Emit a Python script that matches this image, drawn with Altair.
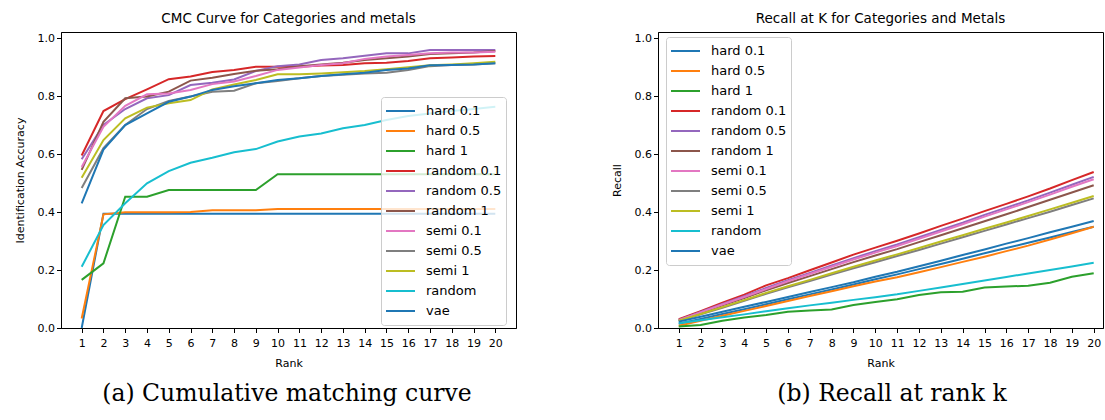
import altair as alt
import pandas as pd

ranks = list(range(1, 21))
series_names = ["hard 0.1", "hard 0.5", "hard 1", "random 0.1", "random 0.5",
                "random 1", "semi 0.1", "semi 0.5", "semi 1", "random", "vae"]
colors = ["#1f77b4", "#ff7f0e", "#2ca02c", "#d62728", "#9467bd", "#8c564b",
          "#e377c2", "#7f7f7f", "#bcbd22", "#17becf", "#1f77b4"]

# ---- CMC curve (left) ----
cmc_hard_01 = [0.0] + [0.394] * 19
cmc_hard_05 = [0.033, 0.392, 0.399, 0.399, 0.399, 0.400, 0.406, 0.406, 0.406, 0.410,
               0.410, 0.410, 0.410, 0.410, 0.410, 0.410, 0.410, 0.410, 0.410, 0.410]
cmc_hard_1 = [0.166, 0.223, 0.453, 0.453, 0.476, 0.476, 0.476, 0.476, 0.476, 0.530,
              0.530, 0.530, 0.530, 0.530, 0.530, 0.530, 0.530, 0.530, 0.530, 0.530]
cmc_random_01 = [0.595, 0.748, 0.789, 0.823, 0.858, 0.867, 0.883, 0.890, 0.901, 0.901,
                 0.901, 0.905, 0.907, 0.913, 0.915, 0.921, 0.930, 0.933, 0.936, 0.938]
cmc_random_05 = [0.582, 0.700, 0.755, 0.792, 0.803, 0.838, 0.846, 0.857, 0.886, 0.903,
                 0.909, 0.924, 0.930, 0.939, 0.947, 0.947, 0.959, 0.959, 0.959, 0.959]
cmc_random_1 = [0.545, 0.711, 0.792, 0.798, 0.815, 0.853, 0.863, 0.876, 0.887, 0.892,
                0.903, 0.909, 0.915, 0.924, 0.930, 0.936, 0.945, 0.947, 0.950, 0.955]
cmc_semi_01 = [0.555, 0.694, 0.766, 0.806, 0.809, 0.821, 0.841, 0.850, 0.869, 0.890,
               0.898, 0.907, 0.913, 0.928, 0.936, 0.941, 0.947, 0.950, 0.950, 0.953]
cmc_semi_05 = [0.483, 0.620, 0.700, 0.755, 0.783, 0.798, 0.815, 0.818, 0.844, 0.852,
               0.861, 0.869, 0.873, 0.878, 0.880, 0.890, 0.903, 0.907, 0.909, 0.913]
cmc_semi_1 = [0.518, 0.648, 0.723, 0.760, 0.775, 0.786, 0.823, 0.840, 0.855, 0.875,
              0.875, 0.878, 0.882, 0.886, 0.892, 0.899, 0.906, 0.909, 0.913, 0.918]
cmc_random = [0.211, 0.355, 0.430, 0.499, 0.541, 0.570, 0.587, 0.606, 0.617, 0.643,
              0.660, 0.671, 0.689, 0.700, 0.717, 0.731, 0.740, 0.748, 0.755, 0.763]
cmc_vae = [0.430, 0.615, 0.700, 0.740, 0.780, 0.798, 0.821, 0.834, 0.844, 0.855,
           0.861, 0.869, 0.875, 0.880, 0.890, 0.895, 0.906, 0.907, 0.909, 0.913]

# ---- Recall at K (right) ----
rec_hard_01 = [0.015, 0.031, 0.048, 0.065, 0.082, 0.099, 0.116, 0.133, 0.150, 0.168,
               0.185, 0.203, 0.221, 0.239, 0.258, 0.276, 0.294, 0.312, 0.331, 0.349]
rec_hard_05 = [0.008, 0.025, 0.042, 0.059, 0.076, 0.093, 0.110, 0.127, 0.144, 0.160,
               0.175, 0.192, 0.210, 0.228, 0.246, 0.265, 0.284, 0.305, 0.327, 0.349]
rec_hard_1 = [0.005, 0.010, 0.025, 0.036, 0.045, 0.056, 0.060, 0.064, 0.079, 0.090,
              0.099, 0.114, 0.123, 0.125, 0.140, 0.143, 0.146, 0.156, 0.177, 0.189]
rec_random_01 = [0.030, 0.058, 0.087, 0.115, 0.147, 0.172, 0.199, 0.226, 0.253, 0.277,
                 0.301, 0.326, 0.352, 0.377, 0.403, 0.428, 0.454, 0.481, 0.510, 0.538]
rec_random_05 = [0.028, 0.055, 0.083, 0.110, 0.138, 0.165, 0.190, 0.216, 0.241, 0.265,
                 0.288, 0.313, 0.338, 0.363, 0.390, 0.415, 0.440, 0.467, 0.494, 0.521]
rec_random_1 = [0.026, 0.052, 0.078, 0.103, 0.130, 0.155, 0.179, 0.203, 0.227, 0.250,
                0.272, 0.296, 0.320, 0.344, 0.368, 0.392, 0.417, 0.442, 0.467, 0.492]
rec_semi_01 = [0.027, 0.054, 0.081, 0.107, 0.134, 0.161, 0.186, 0.211, 0.236, 0.260,
               0.283, 0.308, 0.333, 0.358, 0.384, 0.409, 0.434, 0.460, 0.487, 0.513]
rec_semi_05 = [0.024, 0.047, 0.070, 0.094, 0.118, 0.140, 0.162, 0.184, 0.206, 0.227,
               0.248, 0.269, 0.291, 0.313, 0.335, 0.357, 0.379, 0.401, 0.424, 0.447]
rec_semi_1 = [0.025, 0.048, 0.072, 0.096, 0.121, 0.144, 0.166, 0.189, 0.211, 0.233,
              0.254, 0.276, 0.298, 0.320, 0.342, 0.364, 0.386, 0.409, 0.432, 0.455]
rec_random = [0.016, 0.027, 0.037, 0.047, 0.058, 0.068, 0.078, 0.087, 0.097, 0.106,
              0.116, 0.128, 0.140, 0.152, 0.164, 0.176, 0.188, 0.200, 0.212, 0.225]
rec_vae = [0.022, 0.039, 0.056, 0.073, 0.090, 0.107, 0.124, 0.141, 0.158, 0.177,
           0.194, 0.213, 0.232, 0.252, 0.271, 0.291, 0.310, 0.330, 0.349, 0.369]

y_ticks = [0.0, 0.2, 0.4, 0.6, 0.8, 1.0]

cmc_series = [cmc_hard_01, cmc_hard_05, cmc_hard_1, cmc_random_01, cmc_random_05,
              cmc_random_1, cmc_semi_01, cmc_semi_05, cmc_semi_1, cmc_random, cmc_vae]
rec_series = [rec_hard_01, rec_hard_05, rec_hard_1, rec_random_01, rec_random_05,
              rec_random_1, rec_semi_01, rec_semi_05, rec_semi_1, rec_random, rec_vae]


def to_long(series_list):
    rows = []
    for order, (name, vals) in enumerate(zip(series_names, series_list)):
        for r, v in zip(ranks, vals):
            rows.append({"series": name, "rank": r, "value": v, "order": order})
    return pd.DataFrame(rows)


FONT = "DejaVu Sans"
PLOT_H = 296


def panel(df, title, ytitle, width, xmax, lx, ly, caption, cap_x):
    lines = alt.Chart(df).mark_line(strokeWidth=2).encode(
        x=alt.X("rank:Q",
                scale=alt.Scale(domain=[0.05, xmax], nice=False, zero=False),
                axis=alt.Axis(values=ranks, title="Rank", format="d")),
        y=alt.Y("value:Q",
                scale=alt.Scale(domain=[0, 1.0207], nice=False),
                axis=alt.Axis(values=y_ticks, format=".1f", title=ytitle)),
        color=alt.Color("series:N",
                        scale=alt.Scale(domain=series_names, range=colors),
                        sort=series_names,
                        legend=alt.Legend(
                            title=None, orient="none", legendX=lx, legendY=ly,
                            symbolType="stroke", symbolSize=841,
                            symbolStrokeWidth=2, clipHeight=20, rowPadding=0,
                            labelFontSize=13, labelFont=FONT, labelColor="black",
                            labelOffset=10, padding=4,
                            strokeColor="#cccccc",
                            fillColor="rgba(255,255,255,0.8)",
                            cornerRadius=3)),
        order=alt.Order("order:Q"),
    )
    cap = alt.Chart(pd.DataFrame({"t": [caption]})).mark_text(
        font="DejaVu Serif", fontSize=23.5, color="black", baseline="middle",
        align="center"
    ).encode(x=alt.value(cap_x), y=alt.value(362), text="t:N")
    return alt.layer(lines, cap).properties(
        width=width, height=PLOT_H,
        title=alt.Title(title, fontSize=13.5, font=FONT, fontWeight="normal",
                        color="black", offset=7))


left = panel(to_long(cmc_series), "CMC Curve for Categories and metals",
             "Identification Accuracy", 455, 20.95, 320, 65,
             "(a) Cumulative matching curve", 226)
right = panel(to_long(rec_series), "Recall at K for Categories and Metals",
              "Recall", 445, 0.05 + 445 / 21.84, 8, 5,
              "(b) Recall at rank k", 234)

chart = alt.hconcat(left, right, spacing=93).resolve_scale(
    color="independent", x="independent", y="independent"
).properties(
    padding={"left": 13, "top": 11, "right": 0, "bottom": 0},
    background="white",
).configure_axis(
    grid=False, domainColor="black", tickColor="black", tickSize=4.5,
    labelFont=FONT, labelFontSize=11, labelColor="black", labelPadding=2,
    titleFont=FONT, titleFontSize=11, titleFontWeight="normal",
    titleColor="black", titlePadding=12,
).configure_axisX(labelPadding=5, titlePadding=9).configure_view(
    stroke="black", strokeWidth=1
)

chart.save("out.html", embed_options={"renderer": "svg", "actions": False})
